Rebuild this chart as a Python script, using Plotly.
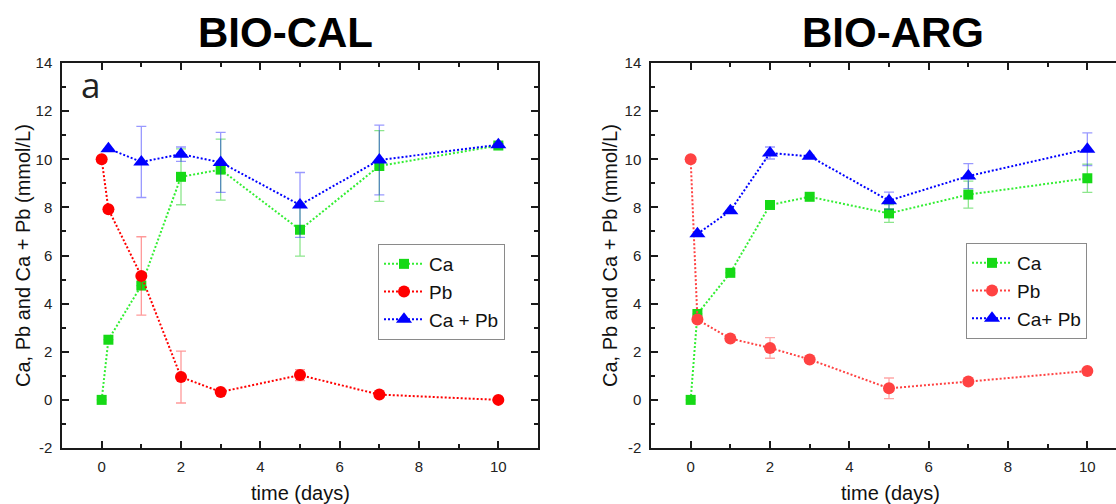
import plotly.graph_objects as go

# ---------------- data ----------------
days = [0, 0.17, 1, 2, 3, 5, 7, 10]
days_sum = [0.17, 1, 2, 3, 5, 7, 10]

cal_ca = [0.0, 2.5, 4.75, 9.27, 9.57, 7.07, 9.72, 10.57]
cal_ca_err = [0, 0, 0, 1.16, 1.27, 1.1, 1.47, 0.08]
cal_pb = [10.0, 7.92, 5.15, 0.95, 0.33, 1.03, 0.22, 0.0]
cal_pb_err = [0, 0, 1.63, 1.08, 0, 0.23, 0, 0]
cal_sum = [10.44, 9.89, 10.21, 9.87, 8.1, 9.97, 10.6]
cal_sum_err = [0, 1.48, 0.3, 1.25, 1.35, 1.45, 0.06]

arg_ca = [0.0, 3.57, 5.28, 8.1, 8.44, 7.75, 8.53, 9.21]
arg_ca_err = [0, 0, 0, 0, 0, 0.37, 0.56, 0.59]
arg_pb = [10.0, 3.34, 2.55, 2.16, 1.68, 0.48, 0.76, 1.2]
arg_pb_err = [0, 0, 0, 0.43, 0, 0.43, 0, 0]
arg_sum = [6.9, 7.86, 10.26, 10.12, 8.28, 9.3, 10.42]
arg_sum_err = [0, 0, 0.25, 0.05, 0.35, 0.52, 0.68]

x_tick_vals = [0, 2, 4, 6, 8, 10]
x_tick_text = ["0", "2", "4", "6", "8", "10"]
y_tick_vals = [-2, 0, 2, 4, 6, 8, 10, 12, 14]
y_tick_text = ["-2", "0", "2", "4", "6", "8", "10", "12", "14"]
x_minor_vals = [-1, 1, 3, 5, 7, 9, 11]
y_minor_vals = [-1, 1, 3, 5, 7, 9, 11, 13]

panel_titles = ["BIO-CAL", "BIO-ARG"]
x_title = "time (days)"
y_title = "Ca, Pb and Ca + Pb (mmol/L)"
legend_names_cal = ["Ca", "Pb", "Ca + Pb"]
legend_names_arg = ["Ca", "Pb", "Ca+ Pb"]

# ---------------- style ----------------
W, H = 1116, 504
FONT = "Liberation Sans, Arial, sans-serif"
GREEN = "#16d916"
GREEN_L = "#33ee33"
RED = "#ff0000"
RED2 = "#ff4242"
BLUE = "#0000ff"
DOT = "2px,2px"

fig = go.Figure()


def add_series(x, y, err, name, color, linecolor, symbol, size, errcolor, xa, ya, legend):
    fig.add_trace(go.Scatter(
        x=x, y=y, name=name, mode="lines+markers",
        line=dict(color=linecolor, width=2, dash=DOT),
        marker=dict(color=color, symbol=symbol, size=size, line=dict(width=0)),
        error_y=dict(type="data", array=err, visible=True, color=errcolor,
                     thickness=1.3, width=5),
        xaxis=xa, yaxis=ya, legend=legend,
    ))


add_series(days, cal_ca, cal_ca_err, legend_names_cal[0], GREEN, GREEN_L, "square", 10,
           "rgba(0,200,0,0.45)", "x", "y", "legend")
add_series(days, cal_pb, cal_pb_err, legend_names_cal[1], RED, RED, "circle", 12,
           "rgba(255,0,0,0.4)", "x", "y", "legend")
add_series(days_sum, cal_sum, cal_sum_err, legend_names_cal[2], BLUE, BLUE, "triangle-up", 14,
           "rgba(0,0,255,0.4)", "x", "y", "legend")

add_series(days, arg_ca, arg_ca_err, legend_names_arg[0], GREEN, GREEN_L, "square", 10,
           "rgba(0,200,0,0.45)", "x2", "y2", "legend2")
add_series(days, arg_pb, arg_pb_err, legend_names_arg[1], RED2, RED2, "circle", 12,
           "rgba(255,60,60,0.45)", "x2", "y2", "legend2")
add_series(days_sum, arg_sum, arg_sum_err, legend_names_arg[2], BLUE, BLUE, "triangle-up", 14,
           "rgba(0,0,255,0.4)", "x2", "y2", "legend2")

AX = "#1a1a1a"


def xaxis(domain, rng, anchor):
    return dict(domain=domain, range=rng, anchor=anchor, automargin=False, showline=True,
                linecolor=AX, linewidth=1.5, mirror="ticks", ticks="inside", ticklen=7,
                tickwidth=1.5, tickcolor=AX, tickmode="array", tickvals=x_tick_vals,
                ticktext=x_tick_text,
                minor=dict(tickmode="array", tickvals=x_minor_vals, ticks="inside",
                           ticklen=4, tickwidth=1.5, tickcolor=AX, showgrid=False),
                showgrid=False, zeroline=False, ticklabelstandoff=4,
                tickfont=dict(family=FONT, size=15, color="#222"))


def yaxis(domain, anchor, mirror):
    return dict(domain=domain, range=[-2, 14], anchor=anchor, automargin=False, showline=True,
                linecolor=AX, linewidth=1.5, mirror=mirror, ticks="inside", ticklen=7,
                tickwidth=1.5, tickcolor=AX, tickmode="array", tickvals=y_tick_vals,
                ticktext=y_tick_text,
                minor=dict(tickmode="array", tickvals=y_minor_vals, ticks="inside",
                           ticklen=4, tickwidth=1.5, tickcolor=AX, showgrid=False),
                showgrid=False, zeroline=False, ticklabelstandoff=5,
                tickfont=dict(family=FONT, size=15, color="#222"))


ydom = [(H - 448) / H, (H - 63) / H]
left_dom = [62 / W, 538 / W]
right_dom = [651 / W, 1.0]
right_max = -1 + (W - 651) / ((538 - 62) / 12)

legend_style = dict(xanchor="left", yanchor="top", bordercolor="#8a8a8a", borderwidth=1,
                    bgcolor="white", font=dict(family=FONT, size=19, color="#111"),
                    tracegroupgap=0, itemwidth=40)

fig.update_layout(
    width=W, height=H, margin=dict(l=0, r=0, t=0, b=0, autoexpand=False),
    paper_bgcolor="white", plot_bgcolor="white",
    xaxis=xaxis(left_dom, [-1, 11], "y"),
    yaxis=yaxis(ydom, "x", "ticks"),
    xaxis2=xaxis(right_dom, [-1, right_max], "y2"),
    yaxis2=yaxis(ydom, "x2", False),
    legend=dict(x=378 / W, y=(H - 244) / H, **legend_style),
    legend2=dict(x=966 / W, y=(H - 243) / H, **legend_style),
    showlegend=True,
)

ann = []
for txt, cx in zip(panel_titles, [285.5, 892.5]):
    ann.append(dict(text=f"<b>{txt}</b>", x=cx / W, y=(H - 33) / H, xref="paper", yref="paper",
                    showarrow=False, xanchor="center", yanchor="middle",
                    font=dict(family=FONT, size=42, color="black")))
for cx in [300, 890]:
    ann.append(dict(text=x_title, x=cx / W, y=(H - 493) / H, xref="paper", yref="paper",
                    showarrow=False, xanchor="center", yanchor="middle",
                    font=dict(family=FONT, size=20, color="#111")))
for cx in [23, 610]:
    ann.append(dict(text=y_title, x=cx / W, y=(H - 256) / H, xref="paper", yref="paper",
                    showarrow=False, xanchor="center", yanchor="middle", textangle=-90,
                    font=dict(family=FONT, size=20, color="#111")))
ann.append(dict(text="a", x=90 / W, y=(H - 85) / H, xref="paper", yref="paper",
                showarrow=False, xanchor="center", yanchor="middle",
                font=dict(family="Open Sans, sans-serif", size=35, color="#222")))
fig.update_layout(annotations=ann)

fig.write_html("out.html")
